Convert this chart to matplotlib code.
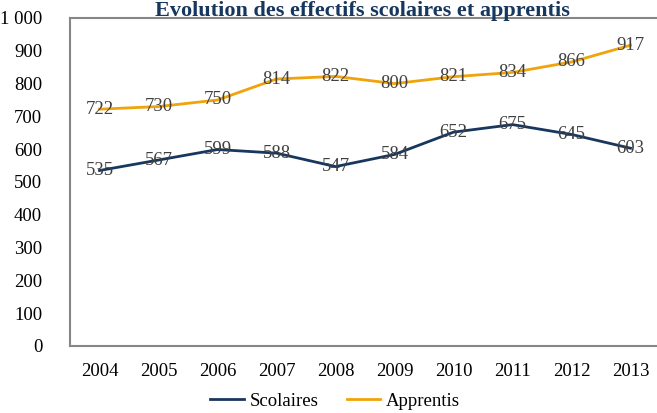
import matplotlib.pyplot as plt

plt.rcParams['font.family'] = ['Liberation Serif', 'DejaVu Serif']

# Data
years = ['2004', '2005', '2006', '2007', '2008', '2009', '2010', '2011', '2012', '2013']
scolaires = [535, 567, 599, 588, 547, 584, 652, 675, 645, 603]
apprentis = [722, 730, 750, 814, 822, 800, 821, 834, 866, 917]
yticks = [0, 100, 200, 300, 400, 500, 600, 700, 800, 900, 1000]
ytick_labels = ['0', '100', '200', '300', '400', '500', '600', '700', '800', '900', '1 000']

fig = plt.figure(figsize=(6.57, 4.13), dpi=100)
# axes extends slightly past the right edge, like the cropped original
ax = fig.add_axes([70 / 657, 1 - 346 / 413, 590 / 657, 328 / 413])

x = range(len(years))
ax.plot(x, scolaires, color='#17375E', linewidth=2, label='Scolaires')
ax.plot(x, apprentis, color='#F0A30A', linewidth=2, label='Apprentis')

# Data labels centered on the points
for i, v in enumerate(scolaires):
    ax.text(i, v, str(v), ha='center', va='center', fontsize=13.5, color='#404040')
for i, v in enumerate(apprentis):
    ax.text(i, v, str(v), ha='center', va='center', fontsize=13.5, color='#404040')

ax.set_xlim(-0.5, len(years) - 0.5)
ax.set_ylim(0, 1000)
ax.set_xticks(list(x))
ax.set_xticklabels(years, fontsize=13.5)
ax.set_yticks(yticks)
ax.set_yticklabels(ytick_labels, fontsize=13.5)
ax.tick_params(length=0)
ax.tick_params(axis='x', pad=12)
ax.tick_params(axis='y', pad=20)

for s in ax.spines.values():
    s.set_color('#868686')
    s.set_linewidth(1.5)

fig.text(362 / 657, 1 - 1 / 413, 'Evolution des effectifs scolaires et apprentis',
         fontsize=16, fontweight='bold', color='#17375E', ha='center', va='top')

ax.legend(loc='center', bbox_to_anchor=((335 - 70) / 590, -55 / 328), ncol=2, frameon=False,
          fontsize=13.5, handlelength=1.8, handletextpad=0.3, columnspacing=1.5,
          borderpad=0)

plt.savefig('out.png', dpi=100)
